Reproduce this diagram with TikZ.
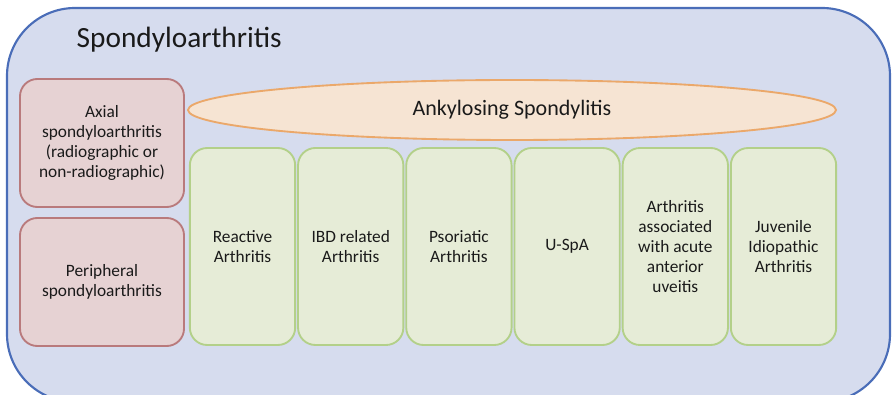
\documentclass[tikz,border=0pt]{standalone}
\usepackage{fontspec}
\setmainfont{Carlito}
\usepackage{tikz}
\usetikzlibrary{shapes}
\usetikzlibrary{positioning}
\definecolor{spaFill}{HTML}{D6DCEE}
\definecolor{spaLine}{HTML}{4A6DB8}
\definecolor{axFill}{HTML}{E6D2D3}
\definecolor{axLine}{HTML}{B97A7C}
\definecolor{asFill}{HTML}{F6E4D3}
\definecolor{asLine}{HTML}{EBA86A}
\definecolor{subFill}{HTML}{E6ECD7}
\definecolor{subLine}{HTML}{B3D089}
\definecolor{ink}{HTML}{1A1A1A}
\tikzstyle{axbox}=[rectangle, rounded corners=13pt, draw=axLine, fill=axFill, line width=1.4pt, minimum width=123pt, minimum height=96pt, align=center, text=ink, font=\fontsize{13}{15}\selectfont]
\tikzstyle{subbox}=[rectangle, rounded corners=13pt, draw=subLine, fill=subFill, line width=1.4pt, minimum width=79pt, minimum height=147.75pt, align=center, text=ink, font=\fontsize{13}{15}\selectfont]
\tikzstyle{asell}=[ellipse, draw=asLine, fill=asFill, line width=1.4pt, minimum width=486pt, minimum height=45pt, inner sep=0pt, text=ink, font=\fontsize{16.5}{19}\selectfont]

\begin{document}
\begin{tikzpicture}
[x=0.75pt, y=-0.75pt, node distance=0.75pt]
 \useasboundingbox (0,0) rectangle (893,395);
 \clip (0,0) rectangle (893,395);
 \draw[spaLine, fill=spaFill, line width=1.6pt, rounded corners=51pt] (7,8) rectangle (890,402);
 \node[anchor=west, text=ink, font=\fontsize{22}{26}\selectfont] (title) at (72,40) {Spondyloarthritis};
 \node[axbox] (axial) at (102,143) {Axial\\spondyloarthritis\\(radiographic or\\non-radiographic)};
 \node[axbox] (periph) at (102,282) {Peripheral\\spondyloarthritis};
 \node[asell] (as) at (512,110) {Ankylosing Spondylitis};
 \node[subbox] (react) at (242.5,246.5) {Reactive\\Arthritis};
 \node[subbox] (ibd) [right=of react] {IBD related\\Arthritis};
 \node[subbox] (psor) [right=of ibd] {Psoriatic\\Arthritis};
 \node[subbox] (uspa) [right=of psor] {U-SpA};
 \node[subbox] (uveit) [right=of uspa] {Arthritis\\associated\\with acute\\anterior\\uveitis};
 \node[subbox] (jia) [right=of uveit] {Juvenile\\Idiopathic\\Arthritis};
\end{tikzpicture}
\end{document}
